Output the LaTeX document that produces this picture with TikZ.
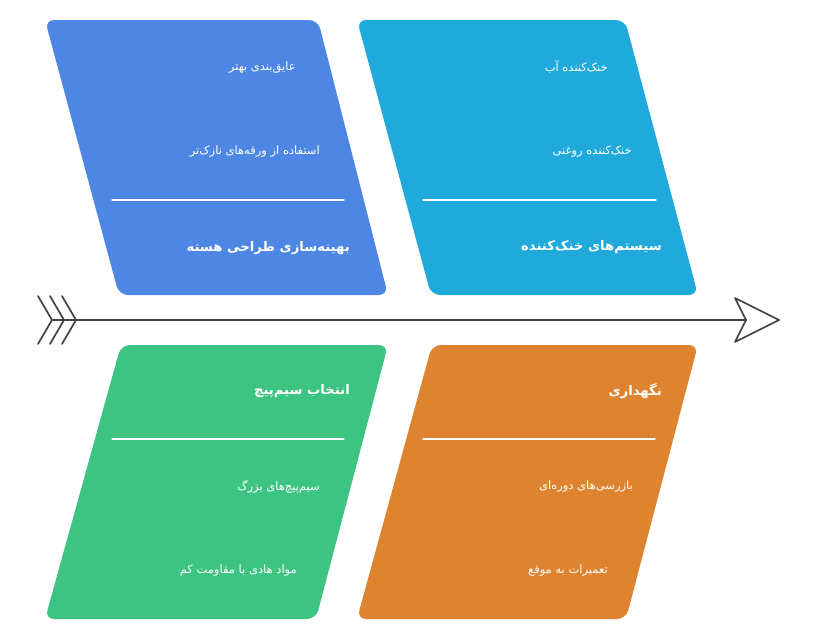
\documentclass[tikz,border=0pt]{standalone}
\usepackage{fontspec}
\newfontfamily\arabicfont[Script=Arabic]{DejaVu Sans}
\TeXXeTstate=1
\definecolor{coreblue}{RGB}{78,134,228}
\definecolor{coolcyan}{RGB}{32,170,219}
\definecolor{windgreen}{RGB}{61,196,130}
\definecolor{maintorange}{RGB}{222,132,48}
\definecolor{spinegray}{RGB}{68,68,68}

\begin{document}
\begin{tikzpicture}[line cap=round,line join=round,x=1pt,y=-1pt,
    card/.style={rounded corners=9pt},
    sep/.style={draw=white, line width=1.2pt},
    item/.style={anchor=east, text=white, inner sep=0pt, font=\arabicfont\fontsize{11.5}{13}\selectfont},
    title/.style={anchor=east, text=white, inner sep=0pt, font=\arabicfont\bfseries\fontsize{13.2}{15}\selectfont},
    spine/.style={draw=spinegray, line width=1.7pt}]
    \useasboundingbox (0,0) rectangle (822,637);

    % cards
    \fill[coreblue, card] (45,20) -- (318,20) -- (388,295) -- (119,295) -- cycle;
    \fill[coolcyan, card] (357,20) -- (625,20) -- (698,295) -- (431,295) -- cycle;
    \fill[windgreen, card] (121,345) -- (388,345) -- (316,619) -- (45,619) -- cycle;
    \fill[maintorange, card] (432,345) -- (698,345) -- (626,619) -- (357,619) -- cycle;

    \draw[sep] (112,200) -- (344,200);
    \draw[sep] (423,200) -- (656,200);
    \draw[sep] (112,439) -- (344,439);
    \draw[sep] (423,439) -- (655,439);

    % core design
    \node[item] (b1) at (296,68) {\beginR عایق‌بندی بهتر\endR};
    \node[item] (b2) at (320,152) {\beginR استفاده از ورقه‌های نازک‌تر\endR};
    \node[title] (bt) at (350,248) {\beginR بهینه‌سازی طراحی هسته\endR};

    % cooling
    \node[item] (c1) at (608,67) {\beginR خنک‌کننده آب\endR};
    \node[item] (c2) at (632,152) {\beginR خنک‌کننده روغنی\endR};
    \node[title] (ct) at (662,247) {\beginR سیستم‌های خنک‌کننده\endR};

    % winding
    \node[title] (gt) at (350,391) {\beginR انتخاب سیم‌پیچ\endR};
    \node[item] (g1) at (320,487) {\beginR سیم‌پیچ‌های بزرگ\endR};
    \node[item] (g2) at (297,571) {\beginR مواد هادی با مقاومت کم\endR};

    % maintenance
    \node[title] (ot) at (662,391) {\beginR نگهداری\endR};
    \node[item] (o1) at (633,487) {\beginR بازرسی‌های دوره‌ای\endR};
    \node[item] (o2) at (608,571) {\beginR تعمیرات به موقع\endR};

    % spine
    \coordinate (tail) at (52,320);
    \coordinate (head) at (746,320);
    \draw[spine] (tail) -- (head);
    \foreach \dx in {0,12,24}
        \draw[spine] (38+\dx,296) -- (52+\dx,320) -- (38+\dx,344);
    \draw[spine] (735,298) -- (779,320) -- (735,342) -- (head) -- cycle;
\end{tikzpicture}
\end{document}
